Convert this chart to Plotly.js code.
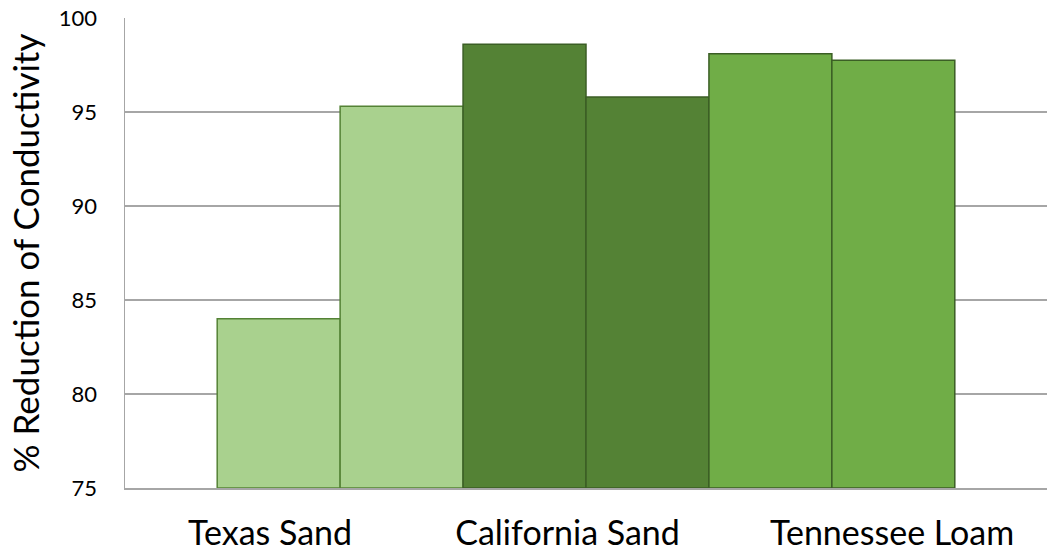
<!DOCTYPE html>
<html>
<head>
<meta charset="utf-8">
<script src="https://cdn.plot.ly/plotly-3.0.1.min.js"></script>
<style>html,body{margin:0;padding:0;background:#fff;}#chart{width:1052px;height:554px;}</style>
</head>
<body>
<div id="chart"></div>
<script>
// Data
const categories = ["Texas Sand", "California Sand", "Tennessee Loam"];
const barSoil = ["Texas Sand", "Texas Sand", "California Sand", "California Sand", "Tennessee Loam", "Tennessee Loam"];
const barValues = [84.0, 95.3, 98.6, 95.8, 98.1, 97.75];
const yTicks = [75, 80, 85, 90, 95, 100];

// Styles
const fillBySoil = {"Texas Sand": "#A9D18E", "California Sand": "#548235", "Tennessee Loam": "#70AD47"};
const lineBySoil = {"Texas Sand": "#548235", "California Sand": "#3B5E25", "Tennessee Loam": "#3B5E25"};
const labelPos = [-0.07, 2.35, 4.99];

const xs = barValues.map((v, i) => i);
const trace = {
  type: "bar",
  x: xs,
  y: barValues.map(v => v - 75),
  base: 75,
  width: 1,
  marker: {
    color: barSoil.map(s => fillBySoil[s]),
    line: {color: barSoil.map(s => lineBySoil[s]), width: 1.5}
  },
  hoverinfo: "skip"
};

const layout = {
  width: 1052, height: 554,
  margin: {l: 125, r: 5, t: 18, b: 66},
  paper_bgcolor: "#fff", plot_bgcolor: "#fff",
  showlegend: false,
  font: {family: "Lato, 'Open Sans', sans-serif", color: "#000"},
  xaxis: {
    type: "linear",
    range: [-1.25, 6.25],
    tickvals: labelPos,
    ticktext: categories,
    tickfont: {size: 34, color: "#000"},
    showgrid: false, zeroline: false,
    showline: true, linecolor: "#A6A6A6", linewidth: 1.5,
    ticks: "outside", ticklen: 15, tickcolor: "rgba(0,0,0,0)",
    fixedrange: true
  },
  yaxis: {
    range: [75, 100],
    tickvals: yTicks,
    tickfont: {size: 22, color: "#000"},
    showgrid: true, gridcolor: "#A6A6A6", gridwidth: 1.2,
    zeroline: false,
    showline: true, linecolor: "#A6A6A6", linewidth: 1.5,
    ticks: "outside", ticklen: 22, tickcolor: "rgba(0,0,0,0)",
    title: {text: "% Reduction of Conductivity", font: {size: 35, color: "#000"}, standoff: 8},
    fixedrange: true
  }
};

Plotly.newPlot("chart", [trace], layout, {displayModeBar: false, staticPlot: true});
</script>
</body>
</html>
